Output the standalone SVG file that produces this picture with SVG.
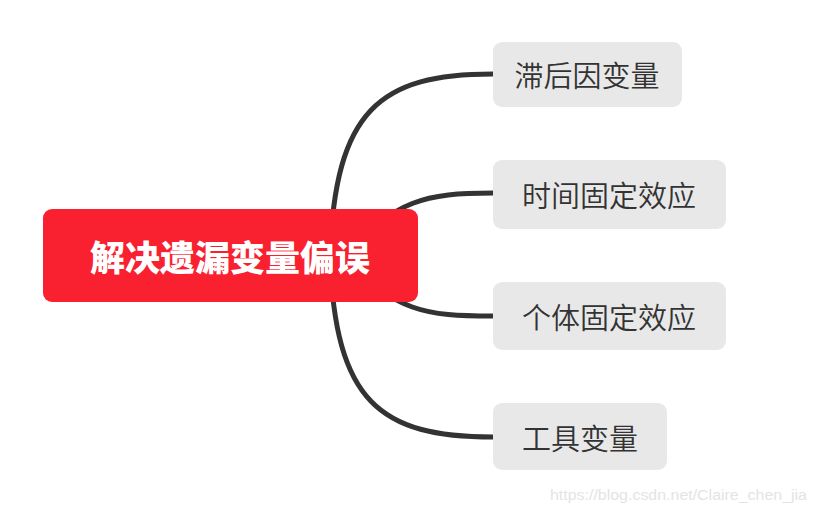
<svg xmlns="http://www.w3.org/2000/svg" width="816" height="512" viewBox="0 0 816 512">
<style>
.conn{fill:none;stroke:#333333;stroke-width:5;stroke-linecap:round}
.sub{fill:#E8E8E8}
.subt{font-family:"Noto Sans CJK SC","Noto Sans CJK JP",sans-serif;font-size:29px;font-weight:350;fill:#333333;text-anchor:middle;dominant-baseline:central}
.root{fill:#F9202F}
.roott{font-family:"Noto Sans CJK SC","Noto Sans CJK JP",sans-serif;font-size:35px;font-weight:900;fill:#FFFFFF;text-anchor:middle;dominant-baseline:central}
</style>
<rect width="816" height="512" fill="#FFFFFF"/>
<g id="connectors">
<path class="conn" d="M 330 256 C 335 110, 380 74, 493 74"/>
<path class="conn" d="M 345 256 C 395 200, 425 193, 493 193"/>
<path class="conn" d="M 345 256 C 395 312, 425 316, 493 316"/>
<path class="conn" d="M 330 256 C 335 402, 380 437, 493 437"/>
</g>
<g id="root">
<rect class="root" x="43" y="209" width="375" height="93" rx="9"/>
<text class="roott" x="230" y="255">解决遗漏变量偏误</text>
</g>
<g id="n1">
<rect class="sub" x="493" y="42" width="189" height="65" rx="9"/>
<text class="subt" x="587" y="74">滞后因变量</text>
</g>
<g id="n2">
<rect class="sub" x="493" y="160" width="233" height="69" rx="9"/>
<text class="subt" x="609" y="194">时间固定效应</text>
</g>
<g id="n3">
<rect class="sub" x="493" y="282" width="233" height="68" rx="9"/>
<text class="subt" x="609" y="316">个体固定效应</text>
</g>
<g id="n4">
<rect class="sub" x="493" y="403" width="174" height="67" rx="9"/>
<text class="subt" x="580" y="437">工具变量</text>
</g>
<text x="550" y="500" font-family="Liberation Sans, Arial, sans-serif" font-size="15.5" fill="#E4E4E4" textLength="257" lengthAdjust="spacingAndGlyphs">https://blog.csdn.net/Claire_chen_jia</text>
</svg>
